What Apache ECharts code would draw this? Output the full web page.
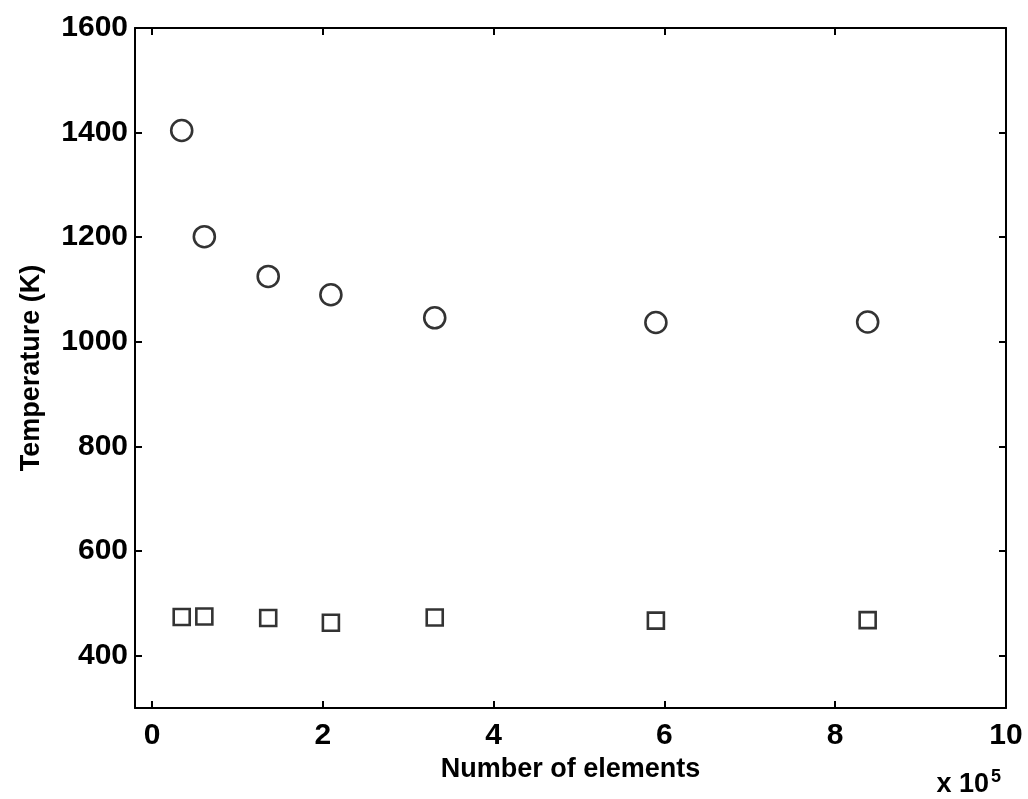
<!DOCTYPE html>
<html>
<head>
<meta charset="utf-8">
<title>Temperature vs number of elements</title>
<script src="https://cdn.jsdelivr.net/npm/echarts@6/dist/echarts.min.js"></script>
<style>
  html, body { margin: 0; padding: 0; background: #fff; }
  #chart { width: 1028px; height: 799px; }
</style>
</head>
<body>
<div id="chart"></div>
<script>
// x in units of 10^5 elements
var elements = [0.347, 0.612, 1.36, 2.094, 3.31, 5.9, 8.38];
var maxTemp = [1404, 1201, 1125, 1090, 1046, 1037, 1038];   // circles
var minTemp = [474, 475, 472, 463, 473, 467, 468];          // squares
var xTicks = [0, 2, 4, 6, 8, 10];
var yTicks = [400, 600, 800, 1000, 1200, 1400, 1600];

var font = 'Liberation Sans, Arial, sans-serif';

function pairs(xs, ys) {
    return xs.map(function (x, i) { return [x, ys[i]]; });
}

// one helper for the four sides of the box
function boxAxis(pos, isX, showLabel) {
    var ticks = isX ? xTicks : yTicks;
    return {
        type: 'value',
        position: pos,
        min: isX ? -0.2 : 300,
        max: isX ? 10 : 1600,
        axisLine: { show: true, onZero: false, lineStyle: { color: '#000', width: 2 } },
        axisTick: { show: true, inside: true, length: 7, customValues: ticks,
                    lineStyle: { color: '#000', width: 2 } },
        axisLabel: { show: showLabel, customValues: ticks, color: '#000',
                     fontFamily: font, fontWeight: 'bold', fontSize: 30,
                     margin: isX ? 13 : 7,
                     formatter: function (v) { return String(v); } },
        splitLine: { show: false }
    };
}

var chart = echarts.init(document.getElementById('chart'));

var xBottom = boxAxis('bottom', true, true);
xBottom.name = 'Number of elements';
xBottom.nameLocation = 'middle';
xBottom.nameGap = 42;
xBottom.nameTextStyle = { color: '#000', fontFamily: font, fontWeight: 'bold', fontSize: 27 };

var yLeft = boxAxis('left', false, true);
yLeft.name = 'Temperature (K)';
yLeft.nameLocation = 'middle';
yLeft.nameGap = 90;
yLeft.nameTextStyle = { color: '#000', fontFamily: font, fontWeight: 'bold', fontSize: 27 };

var option = {
    backgroundColor: '#fff',
    animation: false,
    grid: { left: 135, top: 28, right: 22, bottom: 91 },
    xAxis: [xBottom, boxAxis('top', true, false)],
    yAxis: [yLeft, boxAxis('right', false, false)],
    graphic: [{
        type: 'text',
        right: 27,
        top: 768,
        style: {
            text: 'x 10{sup|5}',
            fill: '#000',
            font: 'bold 27px ' + font,
            rich: { sup: { fontSize: 18, fontWeight: 'bold', fontFamily: font, verticalAlign: 'top', padding: [0, 0, 16, 2] } }
        }
    }],
    series: [{
        type: 'scatter',
        data: pairs(elements, maxTemp),
        symbol: 'circle',
        symbolSize: 21,
        itemStyle: { color: '#fff', borderColor: '#000', borderWidth: 2.6 }
    }, {
        type: 'scatter',
        data: pairs(elements, minTemp),
        symbol: 'rect',
        symbolSize: 16,
        itemStyle: { color: '#fff', borderColor: '#000', borderWidth: 2.6 }
    }]
};

chart.setOption(option);
</script>
</body>
</html>
